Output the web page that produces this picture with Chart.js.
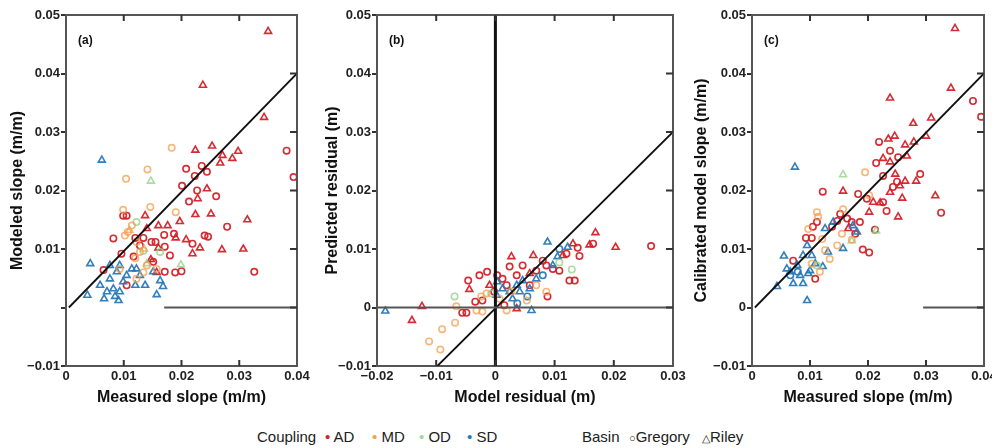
<!DOCTYPE html>
<html>
<head>
<meta charset="utf-8">
<script src="https://cdn.jsdelivr.net/npm/chart.js@4.4.1/dist/chart.umd.min.js"></script>
<style>
  html, body { margin: 0; padding: 0; background: #fff; overflow: hidden; }
  body { width: 992px; height: 448px; position: relative; font-family: "Liberation Sans", Arial, sans-serif; }
  canvas { position: absolute; top: 0; }
  .lg { position: absolute; top: 428px; font-size: 15px; color: #222; white-space: nowrap; line-height: 18px; }
  .dot { font-size: 15px; }
</style>
</head>
<body>
<canvas id="panelA" width="317" height="410" style="left:0px"></canvas>
<canvas id="panelB" width="371" height="410" style="left:322px"></canvas>
<canvas id="panelC" width="314" height="410" style="left:690px"></canvas>

<span class="lg" style="left:257px">Coupling</span>
<span class="lg" style="left:325px"><span style="color:#d62027">&#8226;</span> AD</span>
<span class="lg" style="left:372px"><span style="color:#f5a050">&#8226;</span> MD</span>
<span class="lg" style="left:419px"><span style="color:#a6d79a">&#8226;</span> OD</span>
<span class="lg" style="left:467px"><span style="color:#2a7ab9">&#8226;</span> SD</span>
<span class="lg" style="left:582px">Basin</span>
<span class="lg" style="left:629px"><span style="font-size:11px">&#9675;</span>Gregory</span>
<span class="lg" style="left:702px"><span style="font-size:11px">&#9651;</span>Riley</span>

<script>
// panel (a): measured vs modeled slope
const aADGregory = [[0.0382,0.0268],[0.0394,0.0223],[0.0326,0.0061],[0.0208,0.0237],[0.0201,0.0208],[0.0213,0.0181],[0.0227,0.0200],[0.0260,0.0190],[0.0279,0.0138],[0.0235,0.0242],[0.0244,0.0232],[0.0223,0.0225],[0.0240,0.0123],[0.0246,0.0121],[0.0219,0.0109],[0.0187,0.0126],[0.0170,0.0124],[0.0155,0.0112],[0.0148,0.0112],[0.0134,0.0119],[0.0120,0.0119],[0.0099,0.0157],[0.0105,0.0157],[0.0082,0.0118],[0.0096,0.0092],[0.0117,0.0087],[0.0171,0.0104],[0.0180,0.0089],[0.0200,0.0062],[0.0189,0.0060],[0.0171,0.0061],[0.0105,0.0038],[0.0065,0.0064],[0.0128,0.0106],[0.0151,0.0078]];
const aADRiley = [[0.0350,0.0472],[0.0237,0.0380],[0.0343,0.0325],[0.0224,0.0269],[0.0253,0.0276],[0.0271,0.0260],[0.0267,0.0247],[0.0288,0.0255],[0.0298,0.0267],[0.0314,0.0150],[0.0307,0.0100],[0.0270,0.0099],[0.0251,0.0160],[0.0224,0.0159],[0.0197,0.0147],[0.0176,0.0140],[0.0160,0.0140],[0.0137,0.0157],[0.0140,0.0135],[0.0190,0.0119],[0.0208,0.0116],[0.0232,0.0102],[0.0219,0.0092],[0.0244,0.0203],[0.0228,0.0186],[0.0160,0.0102],[0.0147,0.0082],[0.0157,0.0060]];
const aMDGregory = [[0.0183,0.0273],[0.0141,0.0236],[0.0104,0.0220],[0.0146,0.0172],[0.0190,0.0163],[0.0099,0.0167],[0.0114,0.0140],[0.0107,0.0129],[0.0102,0.0123],[0.0122,0.0112],[0.0128,0.0095],[0.0120,0.0084],[0.0140,0.0072],[0.0157,0.0066],[0.0093,0.0066],[0.0122,0.0049],[0.0134,0.0060]];
const aMDRiley = [[0.0110,0.0132],[0.0135,0.0100]];
const aODGregory = [[0.0122,0.0146],[0.0134,0.0097],[0.0163,0.0095]];
const aODRiley = [[0.0147,0.0216],[0.0199,0.0073],[0.0140,0.0075]];
const aSDGregory = [];
const aSDRiley = [[0.0062,0.0252],[0.0042,0.0075],[0.0037,0.0021],[0.0059,0.0038],[0.0066,0.0015],[0.0076,0.0049],[0.0082,0.0032],[0.0085,0.0019],[0.0091,0.0012],[0.0088,0.0061],[0.0099,0.0044],[0.0105,0.0055],[0.0114,0.0066],[0.0120,0.0038],[0.0128,0.0055],[0.0137,0.0038],[0.0151,0.0061],[0.0157,0.0022],[0.0163,0.0046],[0.0168,0.0036],[0.0076,0.0072],[0.0093,0.0027],[0.0071,0.0027],[0.0122,0.0066],[0.0093,0.0072]];
const aOneToOne = [[0.0005,0],[0.04,0.04]];
const aZeroLine = [[0.017,0],[0.04,0]];

// panel (b): model residual vs predicted residual
const bADGregory = [[0.0165,0.0109],[0.0263,0.0105],[0.0139,0.0102],[0.0142,0.0088],[0.0125,0.0046],[0.0134,0.0046],[0.0120,0.0092],[0.0088,0.0019],[-0.0027,0.0055],[-0.0046,0.0046],[-0.0034,0.0010],[-0.0056,-0.0009],[-0.0049,-0.0009],[0.0097,0.0066],[0.0108,0.0063],[0.0086,0.0072],[0.0080,0.0080],[0.0069,0.0063],[0.0046,0.0072],[0.0036,0.0055],[0.0024,0.0070],[0.0012,0.0049],[0.0003,0.0055],[-0.0002,0.0027],[-0.0022,0.0012],[0.0015,0.0004],[0.0058,0.0038],[0.0019,0.0038],[-0.0014,0.0061]];
const bADRiley = [[0.0169,0.0128],[0.0159,0.0107],[0.0203,0.0103],[0.0131,0.0109],[0.0064,0.0089],[0.0027,0.0087],[-0.0044,0.0031],[-0.0124,0.0002],[-0.0141,-0.0022],[0.0114,0.0089],[-0.0010,0.0038],[0.0036,-0.0002],[0.0058,0.0058]];
const bMDGregory = [[-0.0112,-0.0058],[-0.0093,-0.0072],[-0.0090,-0.0037],[-0.0068,-0.0026],[-0.0066,0.0002],[-0.0022,-0.0007],[-0.0032,-0.0005],[-0.0015,0.0024],[-0.0024,0.0019],[0.0019,-0.0005],[0.0053,0.0012],[0.0069,0.0038],[0.0086,0.0027],[0.0007,0.0015],[0.0027,0.0027]];
const bMDRiley = [];
const bODGregory = [[-0.0069,0.0019],[0.0129,0.0065],[-0.0007,0.0024],[0.0108,0.0077]];
const bODRiley = [];
const bSDGregory = [[0.0080,0.0055],[0.0108,0.0100],[0.0054,0.0019],[0.0037,0.0007]];
const bSDRiley = [[-0.0186,-0.0006],[0.0061,-0.0005],[0.0088,0.0112],[0.0122,0.0103],[0.0105,0.0087],[0.0097,0.0072],[0.0058,0.0032],[0.0041,0.0027],[0.0036,0.0038],[0.0024,0.0027],[0.0046,0.0046],[0.0012,0.0032],[0.0002,0.0021],[0.0029,0.0015],[0.0069,0.0049],[0.0003,0.0044]];
const bOneToOne = [[-0.0098,-0.01],[0.03,0.03]];
const bZeroLine = [[-0.02,0],[0.03,0]];
const bZeroVertical = [[0,-0.01],[0,0.05]];

// panel (c): measured vs calibrated model slope
const cADGregory = [[0.0381,0.0353],[0.0395,0.0326],[0.0326,0.0162],[0.0219,0.0283],[0.0238,0.0268],[0.0214,0.0247],[0.0252,0.0257],[0.0290,0.0228],[0.0226,0.0225],[0.0250,0.0215],[0.0243,0.0206],[0.0226,0.0180],[0.0232,0.0165],[0.0183,0.0194],[0.0198,0.0186],[0.0122,0.0198],[0.0152,0.0160],[0.0164,0.0152],[0.0172,0.0146],[0.0186,0.0146],[0.0147,0.0148],[0.0138,0.0138],[0.0112,0.0146],[0.0105,0.0138],[0.0093,0.0119],[0.0103,0.0119],[0.0191,0.0099],[0.0202,0.0094],[0.0071,0.0080],[0.0109,0.0049],[0.0212,0.0133],[0.0178,0.0126]];
const cADRiley = [[0.0350,0.0477],[0.0238,0.0358],[0.0343,0.0375],[0.0309,0.0324],[0.0278,0.0315],[0.0300,0.0293],[0.0246,0.0293],[0.0235,0.0288],[0.0264,0.0278],[0.0279,0.0283],[0.0238,0.0249],[0.0226,0.0255],[0.0283,0.0216],[0.0267,0.0259],[0.0247,0.0228],[0.0264,0.0216],[0.0255,0.0208],[0.0238,0.0197],[0.0259,0.0187],[0.0221,0.0179],[0.0202,0.0163],[0.0209,0.0180],[0.0252,0.0155],[0.0157,0.0199],[0.0166,0.0135],[0.0316,0.0191]];
const cMDGregory = [[0.0195,0.0231],[0.0202,0.0192],[0.0112,0.0163],[0.0114,0.0155],[0.0157,0.0168],[0.0097,0.0134],[0.0121,0.0117],[0.0126,0.0098],[0.0134,0.0083],[0.0117,0.0061],[0.0103,0.0075],[0.0155,0.0126],[0.0147,0.0106],[0.0172,0.0116]];
const cMDRiley = [];
const cODGregory = [[0.0112,0.0072]];
const cODRiley = [[0.0157,0.0227],[0.0172,0.0114],[0.0214,0.0131]];
const cSDGregory = [[0.0066,0.0055],[0.0079,0.0061]];
const cSDRiley = [[0.0074,0.0240],[0.0043,0.0036],[0.0095,0.0012],[0.0055,0.0088],[0.0071,0.0041],[0.0066,0.0061],[0.0078,0.0072],[0.0083,0.0055],[0.0088,0.0089],[0.0095,0.0106],[0.0088,0.0041],[0.0100,0.0063],[0.0109,0.0075],[0.0122,0.0070],[0.0131,0.0095],[0.0126,0.0135],[0.0140,0.0146],[0.0157,0.0101],[0.0174,0.0140],[0.0181,0.0129],[0.0097,0.0058],[0.0060,0.0066],[0.0103,0.0089]];
const cOneToOne = [[0.0005,0],[0.04,0.04]];
const cZeroLine = [[0.0295,0],[0.04,0]];

// tick labels
const slopeXLabels = ['0', '0.01', '0.02', '0.03', '0.04'];
const residXLabels = ['\u22120.02', '\u22120.01', '0', '0.01', '0.02', '0.03'];
const aYLabels = ['\u22120.01', '', '0.01', '0.02', '0.03', '0.04', '0.05'];
const yLabels = ['\u22120.01', '0', '0.01', '0.02', '0.03', '0.04', '0.05'];

const couplingColors = {
  AD: 'rgba(212,32,40,0.95)',
  MD: 'rgba(244,158,78,0.75)',
  OD: 'rgba(150,210,140,0.8)',
  SD: 'rgba(38,120,185,0.95)'
};

function pts(arr) {
  return arr.map(p => ({x: p[0], y: p[1]}));
}

function pointSet(data, coupling, basin) {
  return {
    data: pts(data),
    pointStyle: basin === 'Gregory' ? 'circle' : 'triangle',
    pointRadius: basin === 'Gregory' ? 3.2 : 4,
    borderColor: couplingColors[coupling],
    backgroundColor: 'rgba(255,255,255,0)',
    pointBorderWidth: 1.6,
    order: 2
  };
}

function lineSet(data, color, width) {
  return {
    type: 'line',
    data: pts(data),
    borderColor: color,
    borderWidth: width,
    pointRadius: 0,
    fill: false,
    order: 1
  };
}

const tickFont = {family: '"Liberation Sans", Arial, sans-serif', size: 13, weight: 'bold'};
const titleFont = {family: '"Liberation Sans", Arial, sans-serif', size: 16, weight: 'bold'};

// frame on top/right plus inward tick marks, and panel tag
const framePlugin = {
  id: 'frame',
  afterDatasetsDraw(chart) {
    const ctx = chart.ctx;
    const a = chart.chartArea;
    const sx = chart.scales.x, sy = chart.scales.y;
    ctx.save();
    ctx.strokeStyle = '#555';
    ctx.lineWidth = 2;
    ctx.beginPath();
    ctx.moveTo(a.left, a.top);
    ctx.lineTo(a.right, a.top);
    ctx.lineTo(a.right, a.bottom);
    ctx.stroke();
    ctx.strokeStyle = '#333';
    ctx.beginPath();
    sx.ticks.forEach(t => {
      const px = sx.getPixelForValue(t.value);
      if (px <= a.left + 2 || px >= a.right - 2) return;
      ctx.moveTo(px, a.top); ctx.lineTo(px, a.top + 6);
      ctx.moveTo(px, a.bottom); ctx.lineTo(px, a.bottom - 6);
    });
    sy.ticks.forEach(t => {
      const py = sy.getPixelForValue(t.value);
      if (py <= a.top + 2 || py >= a.bottom - 2) return;
      ctx.moveTo(a.right, py); ctx.lineTo(a.right - 7, py);
    });
    ctx.stroke();
    ctx.fillStyle = '#111';
    ctx.font = 'bold 12px "Liberation Sans", Arial, sans-serif';
    ctx.fillText(chart.options.plugins.frame.tag, a.left + 12, a.top + 29);
    ctx.restore();
  }
};

function makePanel(id, opt) {
  return new Chart(document.getElementById(id).getContext('2d'), {
    type: 'scatter',
    data: {datasets: opt.datasets},
    plugins: [framePlugin],
    options: {
      responsive: false,
      animation: false,
      layout: {padding: {left: 0, right: 20, top: 15, bottom: 0}},
      plugins: {
        legend: {display: false},
        tooltip: {enabled: false},
        frame: {tag: opt.tag}
      },
      scales: {
        x: {
          type: 'linear',
          min: opt.xMin,
          max: opt.xMax,
          ticks: {
            stepSize: 0.01,
            autoSkip: false,
            maxRotation: 0,
            padding: 3,
            color: '#222',
            font: tickFont,
            callback: (v, i) => opt.xLabels[i]
          },
          grid: {drawOnChartArea: false, drawTicks: false},
          border: {color: '#555', width: 2},
          title: {display: true, text: opt.xTitle, color: '#111', font: titleFont, padding: {top: 0, bottom: 3}},
          afterFit: s => { s.height = 44; }
        },
        y: {
          type: 'linear',
          min: -0.01,
          max: 0.05,
          ticks: {
            stepSize: 0.01,
            autoSkip: false,
            padding: 1,
            color: '#222',
            font: tickFont,
            callback: (v, i) => opt.yLabels[i]
          },
          grid: {drawOnChartArea: false, drawTicks: true, tickLength: 5, color: '#333', lineWidth: 2},
          border: {color: '#555', width: 2},
          title: {display: true, text: opt.yTitle, color: '#111', font: titleFont, padding: {top: opt.yTitlePad, bottom: 0}},
          afterFit: s => { s.width = opt.yWidth; }
        }
      }
    }
  });
}

function groupSets(g) {
  return [
    pointSet(g.MDGregory, 'MD', 'Gregory'), pointSet(g.MDRiley, 'MD', 'Riley'),
    pointSet(g.ODGregory, 'OD', 'Gregory'), pointSet(g.ODRiley, 'OD', 'Riley'),
    pointSet(g.SDGregory, 'SD', 'Gregory'), pointSet(g.SDRiley, 'SD', 'Riley'),
    pointSet(g.ADGregory, 'AD', 'Gregory'), pointSet(g.ADRiley, 'AD', 'Riley')
  ];
}

document.addEventListener('DOMContentLoaded', function () {
  makePanel('panelA', {
    tag: '(a)', xMin: 0, xMax: 0.04, xLabels: slopeXLabels, yLabels: aYLabels,
    xTitle: 'Measured slope (m/m)', yTitle: 'Modeled slope (m/m)', yWidth: 66, yTitlePad: 8,
    datasets: groupSets({MDGregory: aMDGregory, MDRiley: aMDRiley, ODGregory: aODGregory, ODRiley: aODRiley,
      SDGregory: aSDGregory, SDRiley: aSDRiley, ADGregory: aADGregory, ADRiley: aADRiley})
      .concat([lineSet(aZeroLine, '#555', 2), lineSet(aOneToOne, '#111', 1.8)])
  });
  makePanel('panelB', {
    tag: '(b)', xMin: -0.02, xMax: 0.03, xLabels: residXLabels, yLabels: yLabels,
    xTitle: 'Model residual (m)', yTitle: 'Predicted residual (m)', yWidth: 55, yTitlePad: 1,
    datasets: groupSets({MDGregory: bMDGregory, MDRiley: bMDRiley, ODGregory: bODGregory, ODRiley: bODRiley,
      SDGregory: bSDGregory, SDRiley: bSDRiley, ADGregory: bADGregory, ADRiley: bADRiley})
      .concat([lineSet(bZeroLine, '#555', 2), lineSet(bZeroVertical, '#111', 3), lineSet(bOneToOne, '#111', 1.8)])
  });
  makePanel('panelC', {
    tag: '(c)', xMin: 0, xMax: 0.04, xLabels: slopeXLabels, yLabels: yLabels,
    xTitle: 'Measured slope (m/m)', yTitle: 'Calibrated model slope (m/m)', yWidth: 62, yTitlePad: 2,
    datasets: groupSets({MDGregory: cMDGregory, MDRiley: cMDRiley, ODGregory: cODGregory, ODRiley: cODRiley,
      SDGregory: cSDGregory, SDRiley: cSDRiley, ADGregory: cADGregory, ADRiley: cADRiley})
      .concat([lineSet(cZeroLine, '#555', 2), lineSet(cOneToOne, '#111', 1.8)])
  });
});
</script>
</body>
</html>
